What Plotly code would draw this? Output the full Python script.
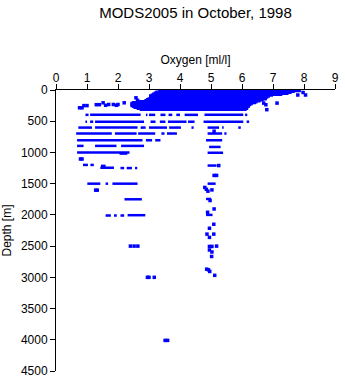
import plotly.graph_objects as go

# Dense surface blob: rows of (depth, oxygen start, oxygen end)
blob_depth = [0, 15, 30, 45, 60, 75, 90, 105, 120, 135, 150, 165, 180, 195, 210, 225, 240, 255, 270, 285, 300, 315]
blob_x0 = [4.3, 3.3, 3.2, 3.15, 3.1, 3.05, 3.0, 3.0, 3.0, 2.95, 2.9, 2.85, 2.6, 2.45, 2.4, 2.4, 2.4, 2.4, 2.45, 2.5, 2.6, 2.7]
blob_x1 = [7.75, 7.9, 7.7, 7.6, 7.5, 7.3, 7.0, 6.9, 6.85, 6.8, 6.8, 6.7, 6.6, 6.5, 6.45, 6.35, 6.3, 6.25, 6.25, 6.2, 6.2, 6.15]

# Horizontal bands of observations at standard depths
band_depth = [398, 398, 398, 398, 398, 398, 398, 398, 398, 398,
              508, 508, 508, 508, 508, 508, 508, 508, 508,
              602, 602, 602, 602, 602, 602, 602, 602, 602,
              697, 697, 697, 697, 697, 697, 697,
              805, 805, 805, 805,
              895, 895, 895, 912,
              1000, 1018, 1005,
              1200, 1200, 1215, 1245, 1250, 1250, 1250, 1210,
              1500, 1500, 1500, 1500,
              1750, 1745,
              2010, 2010, 2010, 2005, 2000]
band_x0 = [0.95, 1.1, 2.9, 3.0, 3.37, 3.63, 3.88, 4.15, 4.79, 6.1,
           0.95, 1.1, 1.26, 3.05, 3.35, 3.61, 4.26, 4.76, 6.15,
           0.72, 1.26, 2.73, 3.0, 3.65, 4.37, 4.89, 5.36, 5.88,
           0.65, 1.9, 2.65, 3.4, 3.58, 4.89, 5.43,
           0.68, 2.9, 3.2, 4.84,
           0.68, 1.26, 2.1, 4.94,
           0.68, 2.05, 4.89,
           0.87, 1.11, 1.45, 1.43, 2.08, 2.28, 2.55, 4.89,
           1.01, 1.6, 1.82, 4.89,
           2.21, 4.84,
           1.6, 1.87, 2.08, 2.31, 4.84]
band_x1 = [1.05, 2.73, 2.95, 3.2, 3.53, 3.75, 4.0, 4.58, 6.04, 6.17,
           1.0, 1.2, 2.84, 3.21, 3.53, 4.21, 4.47, 6.04, 6.23,
           1.16, 2.63, 2.89, 3.58, 4.03, 4.44, 5.26, 5.41, 5.96,
           1.8, 2.6, 3.2, 3.5, 3.9, 5.36, 5.5,
           2.79, 3.1, 3.37, 5.36,
           0.89, 1.95, 2.84, 5.31,
           2.37, 2.3, 5.39,
           1.03, 1.22, 1.6, 1.87, 2.2, 2.45, 2.62, 5.18,
           1.43, 1.68, 2.63, 5.15,
           2.77, 5.0,
           1.77, 1.96, 2.2, 2.88, 5.05]

# Isolated observations
pt_x = [7.97, 8.05, 7.8, 7.13, 6.8, 6.77, 6.7,
        2.58, 2.63, 1.52, 1.6, 1.95, 2.2, 0.76, 0.84, 0.9, 1.0, 1.3, 1.4, 1.7, 1.85, 2.0,
        5.1, 0.79, 0.84, 1.28, 1.33, 5.25, 5.1, 5.18, 4.8, 4.85, 4.9, 5.03, 4.97, 5.1, 4.89,
        5.09, 4.95, 4.87, 5.09, 4.95, 4.95, 5.03, 5.18, 4.95, 5.03, 5.02, 4.86, 4.92, 4.96, 5.12,
        2.4, 2.52, 2.64, 2.95, 3.0, 3.17, 3.52, 3.6]
pt_depth = [40, 80, 80, 210, 315, 236, 210,
            125, 165, 205, 245, 245, 205, 285, 285, 250, 250, 235, 235, 232, 232, 232,
            660, 1105, 1105, 1604, 1604, 1210, 1368, 1368, 1560, 1590, 1620, 1600, 1770, 1905, 1958,
            2150, 2214, 2308, 2308, 2360, 2505, 2505, 2500, 2562, 2594, 2666, 2869, 2880, 2906, 2968,
            2500, 2500, 2500, 3000, 3000, 3000, 4010, 4010]

x_ticks = [0, 1, 2, 3, 4, 5, 6, 7, 8, 9]
y_ticks = [0, 500, 1000, 1500, 2000, 2500, 3000, 3500, 4000, 4500]

COLOR = "#0000ff"

def segments(depths, x0s, x1s):
    xs, ys = [], []
    for d, a, b in zip(depths, x0s, x1s):
        xs += [a, b, None]
        ys += [d, d, None]
    return xs, ys

bx, by = segments(blob_depth, blob_x0, blob_x1)
sx, sy = segments(band_depth, band_x0, band_x1)

fig = go.Figure()
fig.add_trace(go.Scatter(x=bx, y=by, mode="lines", line=dict(color=COLOR, width=2.5),
                         hoverinfo="skip", showlegend=False))
fig.add_trace(go.Scatter(x=sx, y=sy, mode="lines", line=dict(color=COLOR, width=2.5),
                         hoverinfo="skip", showlegend=False))
fig.add_trace(go.Scatter(x=pt_x, y=pt_depth, mode="markers",
                         marker=dict(color=COLOR, size=3.5, symbol="square", line=dict(width=0)),
                         showlegend=False))

FONT = "Liberation Sans, Arial, sans-serif"
fig.update_layout(
    width=345, height=384,
    margin=dict(l=54, r=6, t=90, b=9),
    paper_bgcolor="white", plot_bgcolor="white",
    font=dict(family=FONT, size=12, color="black"),
    title=dict(text="MODS2005 in October, 1998", x=0.5, xref="paper", xanchor="center",
               y=1 - 13 / 384, yref="container", yanchor="middle",
               font=dict(family=FONT, size=15, color="black")),
    xaxis=dict(side="top", range=[0, 9], tickvals=x_ticks, ticktext=[str(v) for v in x_ticks],
               showgrid=False, zeroline=False, showline=True, linecolor="black", linewidth=1,
               ticks="outside", ticklen=5, tickcolor="black", ticklabelstandoff=-3,
               title=dict(text="Oxygen [ml/l]", font=dict(size=12), standoff=4),
               tickfont=dict(size=12)),
    yaxis=dict(range=[4500, 0], tickvals=y_ticks, ticktext=[str(v) for v in y_ticks],
               showgrid=False, zeroline=False, showline=True, linecolor="black", linewidth=1,
               ticks="outside", ticklen=5, tickcolor="black",
               title=dict(text="Depth [m]", font=dict(size=12), standoff=6),
               tickfont=dict(size=12)),
)

fig.write_html("out.html")
